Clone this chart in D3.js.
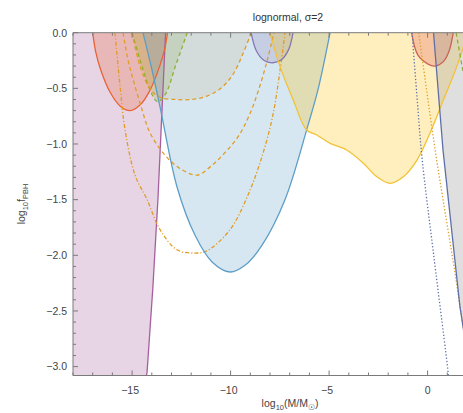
<!DOCTYPE html>
<html><head><meta charset="utf-8">
<script src="https://cdn.jsdelivr.net/npm/d3@7"></script>
<style>body{margin:0;background:#fff}svg{display:block}text{font-family:"Liberation Sans",Arial,sans-serif}</style>
</head><body><div id="chart"></div>
<script>
// ---- data (log10 M/Msun, log10 f_PBH) ----
const purpleX = [-14.3, -14.24, -13.95, -13.69, -13.48, -13.3];
const purpleY = [-3.1, -3.05, -2.3, -1.5, -0.69, 0];
const redLX = [-17.0, -16.85, -16.6, -16.1, -15.6, -15.1, -14.6, -14.1, -13.6, -13.35, -13.2];
const redLY = [0, -0.17, -0.33, -0.54, -0.66, -0.7, -0.65, -0.52, -0.3, -0.15, 0];
const greenX = [-15.0, -14.5, -14.0, -13.7, -13.3, -12.8, -12.2];
const greenY = [0, -0.3, -0.55, -0.62, -0.55, -0.3, 0];
const or1X = [-15.0, -14.6, -14.1, -13.6, -12.8, -12.0, -11.2, -10.5, -9.9, -9.4, -8.95];
const or1Y = [0, -0.3, -0.5, -0.58, -0.6, -0.6, -0.57, -0.5, -0.38, -0.2, 0];
const or2X = [-15.46, -15.2, -14.95, -14.5, -14.09, -13.33, -12.57, -11.7, -11.0, -10.3, -9.6, -9.0, -8.5, -8.1, -7.8];
const or2Y = [0, -0.25, -0.42, -0.69, -0.9, -1.1, -1.22, -1.28, -1.2, -1.08, -0.93, -0.72, -0.47, -0.22, 0];
const or3X = [-15.87, -15.6, -15.36, -14.85, -14.24, -13.58, -12.72, -11.8, -11.2, -10.03, -9.17, -8.51, -7.9, -7.49, -7.24];
const or3Y = [0, -0.5, -0.87, -1.28, -1.5, -1.77, -1.95, -1.98, -1.96, -1.77, -1.48, -1.17, -0.78, -0.34, 0];
const blueX = [-14.45, -13.99, -13.58, -12.72, -11.81, -10.94, -10.03, -9.27, -8.41, -7.24, -6.07, -5.56, -4.95];
const blueY = [0, -0.335, -0.668, -1.386, -1.818, -2.06, -2.15, -2.09, -1.91, -1.5, -0.83, -0.51, 0];
const lavX = [-8.96, -8.7, -8.3, -7.85, -7.4, -7.05, -6.83];
const lavY = [0, -0.16, -0.25, -0.27, -0.24, -0.15, 0];
const yellowX = [-8.0, -7.49, -6.82, -6.14, -5.63, -4.95, -4.11, -3.26, -2.58, -1.91, -1.23, -0.54, 0.12, 0.8, 1.48, 2.05];
const yellowY = [0, -0.305, -0.605, -0.874, -0.919, -0.994, -1.054, -1.173, -1.294, -1.353, -1.294, -1.144, -0.904, -0.605, -0.305, 0];
const redRX = [-0.81, -0.5, 0.0, 0.38, 0.8, 1.1, 1.3];
const redRY = [0, -0.2, -0.28, -0.3, -0.26, -0.16, 0];
const grayX = [0.3, 0.78, 1.64, 2.2];
const grayY = [0, -1.05, -2.46, -3.1];
const dotBlueX = [-0.79, -0.55, -0.28, 0.31, 1.04, 1.06];
const dotBlueY = [0, -0.55, -1.13, -2.0, -3.05, -3.1];
const dotOrX = [-0.45, 0.38, 1.39, 2.1];
const dotOrY = [0, -1.05, -2.16, -3.0];
const greenRX = [1.45, 1.75, 2.1];
const greenRY = [0, -0.3, -0.6];
const xTicks = [-15, -10, -5, 0];
const yTicks = [0, -0.5, -1.0, -1.5, -2.0, -2.5, -3.0];
const title = "lognormal, σ=2";

// ---- layout ----
const W = 463, H = 413;
const L = 73, R = 467, T = 32.7, B = 375.5;
const x = d3.scaleLinear().domain([-18, 2]).range([L, R]);
const y = d3.scaleLinear().domain([0, -3.08]).range([T, B]);

const svg = d3.select("#chart").append("svg").attr("width", W).attr("height", H);
svg.append("clipPath").attr("id", "clip").append("rect")
  .attr("x", L).attr("y", T).attr("width", R - L).attr("height", B - T);
const g = svg.append("g").attr("clip-path", "url(#clip)");

const pts = (xs, ys) => xs.map((v, i) => [v, ys[i]]);
const smooth = d3.line().x(d => x(d[0])).y(d => y(d[1])).curve(d3.curveCatmullRom.alpha(0.5));
const straight = d3.line().x(d => x(d[0])).y(d => y(d[1]));

const C = {
  purple: "#A5609D", red: "#EB6235", green: "#8FB032", orange: "#E19C24",
  blue: "#5D9EC7", lav: "#8778B3", yellow: "#F2C236", redR: "#C8645A",
  gray: "#9a9a9a", dark: "#5E6FA8"
};

// fills
g.append("path").attr("d", straight([[-18, -3.2], ...pts(purpleX, purpleY), [-18, 0]]) + "Z")
  .attr("fill", C.purple).attr("fill-opacity", 0.27);
function fillU(xs, ys, col, op) {
  g.append("path").attr("d", smooth(pts(xs, ys)) + "Z").attr("fill", col).attr("fill-opacity", op);
}
fillU(redLX, redLY, C.red, 0.25);
fillU(greenX, greenY, C.green, 0.2);
fillU(or1X, or1Y, C.orange, 0.14);
fillU(blueX, blueY, C.blue, 0.25);
fillU(lavX, lavY, C.lav, 0.22);
fillU(yellowX, yellowY, "#FFBF00", 0.25);
fillU(redRX, redRY, "#E0605A", 0.3);
g.append("path").attr("d", straight([...pts(grayX, grayY), [2.5, -3.2], [2.5, 0]]) + "Z")
  .attr("fill", C.gray).attr("fill-opacity", 0.32);

// lines
function line(xs, ys, col, dash, w, gen) {
  g.append("path").attr("d", (gen || smooth)(pts(xs, ys))).attr("fill", "none")
    .attr("stroke", col).attr("stroke-width", w || 1.3)
    .attr("stroke-dasharray", dash || null);
}
line(purpleX, purpleY, C.purple, null, 1.3, straight);
line(redLX, redLY, C.red);
line(greenX, greenY, C.green, "4,3");
line(or1X, or1Y, C.orange, "4,3");
line(or2X, or2Y, C.orange, "4,3");
line(or3X, or3Y, C.orange, "4,2,1.2,2");
line(blueX, blueY, C.blue);
line(lavX, lavY, C.lav);
line(yellowX, yellowY, C.yellow);
line(redRX, redRY, C.redR);
line(dotBlueX, dotBlueY, C.dark, "1.3,2");
line(dotOrX, dotOrY, C.orange, "1.3,2");
line(greenRX, greenRY, C.green, "4,3");
line(grayX, grayY, C.dark, null, 1.3, straight);

// frame & ticks
const fc = "#7a7a7a";
const fr = svg.append("g").attr("stroke", fc).attr("stroke-width", 1);
fr.append("line").attr("x1", L).attr("x2", W).attr("y1", T).attr("y2", T);
fr.append("line").attr("x1", L).attr("x2", W).attr("y1", B).attr("y2", B);
fr.append("line").attr("x1", L).attr("x2", L).attr("y1", T).attr("y2", B);
for (let v = -18; v <= 2; v++) {
  const len = (v % 5 === 0) ? 5 : 3;
  fr.append("line").attr("x1", x(v)).attr("x2", x(v)).attr("y1", B).attr("y2", B - len);
  fr.append("line").attr("x1", x(v)).attr("x2", x(v)).attr("y1", T).attr("y2", T + len);
}
for (let k = 0; k <= 30; k++) {
  const v = -k / 10;
  const len = (k % 5 === 0) ? 5 : 3;
  fr.append("line").attr("x1", L).attr("x2", L + len).attr("y1", y(v)).attr("y2", y(v));
}
const fmt = v => (v < 0 ? "−" : "") + Math.abs(v).toFixed(1);
svg.append("g").selectAll("text").data(yTicks).join("text")
  .attr("x", 67).attr("y", d => y(d) + 3.8).attr("text-anchor", "end")
  .attr("font-size", 10.5).attr("fill", "#444").text(fmt);
svg.append("g").selectAll("text").data(xTicks).join("text")
  .attr("x", d => x(d) + (d < 0 ? -2 : 0)).attr("y", 394).attr("text-anchor", "middle")
  .attr("font-size", 10.5).attr("fill", "#444").text(d => (d < 0 ? "−" : "") + Math.abs(d));

svg.append("text").attr("x", 288).attr("y", 21).attr("text-anchor", "middle")
  .attr("font-size", 10.5).attr("fill", "#333").text(title);
const yl = svg.append("text").attr("transform", "translate(25,204) rotate(-90)")
  .attr("text-anchor", "middle").attr("font-size", 10.5).attr("fill", "#444");
yl.append("tspan").text("log");
yl.append("tspan").attr("font-size", 7.5).attr("dy", 3).text("10");
yl.append("tspan").attr("dy", -3).text("f");
yl.append("tspan").attr("font-size", 7.5).attr("dy", 3).text("PBH");
const xl = svg.append("text").attr("x", 290).attr("y", 407).attr("text-anchor", "middle")
  .attr("font-size", 10.5).attr("fill", "#444");
xl.append("tspan").text("log");
xl.append("tspan").attr("font-size", 7.5).attr("dy", 2.5).text("10");
xl.append("tspan").attr("dy", -2.5).text("(M/M");
xl.append("tspan").attr("font-size", 7.5).attr("dy", 2.5).text("☉");
xl.append("tspan").attr("dy", -2.5).text(")");
</script></body></html>
